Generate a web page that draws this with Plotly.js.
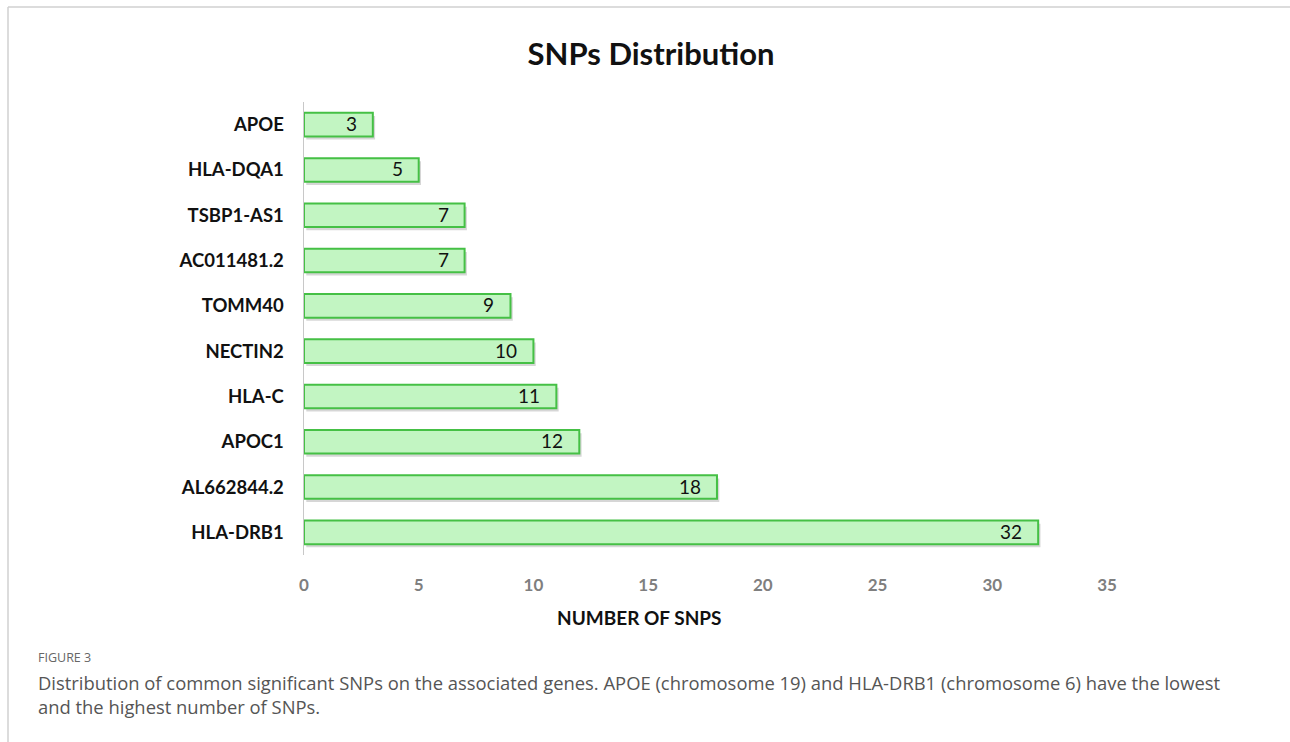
<!DOCTYPE html>
<html><head><meta charset="utf-8">
<script src="https://cdn.plot.ly/plotly-3.0.1.min.js"></script>
<style>html,body{margin:0;padding:0;background:#fff}#chart{width:1290px;height:742px}</style>
</head><body><div id="chart"></div>
<script>
const genes = ["APOE","HLA-DQA1","TSBP1-AS1","AC011481.2","TOMM40","NECTIN2","HLA-C","APOC1","AL662844.2","HLA-DRB1"];
const snpCounts = [3,5,7,7,9,10,11,12,18,32];
const xTicks = [0,5,10,15,20,25,30,35];
const chartTitle = "SNPs Distribution";
const xTitle = "NUMBER OF SNPS";
const figLabel = "FIGURE 3";
const captionText = "Distribution of common significant SNPs on the associated genes. APOE (chromosome 19) and HLA-DRB1 (chromosome 6) have the lowest<br>and the highest number of SNPs.";

const L=304,R=1107,T=102,B=555,W=1290,H=742;
const px=x=>(x-L)/(R-L), py=y=>(B-y)/(B-T);
const F='Lato, Carlito, sans-serif';

const shadow = {type:'bar',orientation:'h',x:snpCounts,y:genes,width:0.52,offset:-0.26+0.07,base:0.1,
  marker:{color:'rgba(0,0,0,0.16)',line:{width:0}},hoverinfo:'skip',showlegend:false};
const bars = {type:'bar',orientation:'h',x:snpCounts,y:genes,width:0.52,offset:-0.26,
  marker:{color:'#c2f5c2',line:{color:'#45c045',width:2}},hoverinfo:'x+y',showlegend:false};

const ann = genes.map((g,i)=>({x:snpCounts[i],y:g,xref:'x',yref:'y',text:String(snpCounts[i]),
  xanchor:'right',yanchor:'middle',xshift:-14,yshift:1,showarrow:false,font:{family:F,size:19,color:'#111'}}));
ann.push({xref:'paper',yref:'paper',x:px(639),y:py(617),xanchor:'center',yanchor:'middle',showarrow:false,
  text:'<b>'+xTitle+'</b>',font:{family:F,size:19,color:'#111'}});
ann.push({xref:'paper',yref:'paper',x:px(36),y:py(657),xanchor:'left',yanchor:'middle',showarrow:false,
  text:figLabel,font:{family:'Open Sans, sans-serif',size:12.5,color:'#666'}});
ann.push({xref:'paper',yref:'paper',x:px(36),y:py(694),xanchor:'left',yanchor:'middle',align:'left',showarrow:false,
  text:captionText,font:{family:'Open Sans, sans-serif',size:18.4,color:'#555'}});

Plotly.newPlot('chart',[shadow,bars],{
  width:W,height:H,margin:{l:L,r:W-R,t:T,b:H-B},
  paper_bgcolor:'#fff',plot_bgcolor:'#fff',barmode:'overlay',
  title:{text:'<b>'+chartTitle+'</b>',x:px(651),xref:'paper',xanchor:'center',y:1-54/H,yanchor:'middle',
    font:{family:F,size:31,color:'#111'}},
  xaxis:{range:[0,35],tickvals:xTicks,showgrid:false,zeroline:false,showline:false,ticks:'',
    ticklabelstandoff:18,tickfont:{family:F,size:17,color:'#7f7f7f',weight:'bold'},fixedrange:true},
  yaxis:{range:[9.5,-0.5],type:'category',showgrid:false,zeroline:false,showline:true,linecolor:'#c8c8c8',linewidth:1.5,ticks:'',
    ticklabelstandoff:15,tickfont:{family:F,size:18.5,color:'#111',weight:'bold'},fixedrange:true},
  annotations:ann,
  shapes:[
    {type:'line',xref:'paper',yref:'paper',x0:px(8),x1:px(8),y0:py(7),y1:py(742),line:{color:'#d0d0d0',width:1.5},layer:'below'},
    {type:'line',xref:'paper',yref:'paper',x0:px(8),x1:px(1290),y0:py(7),y1:py(7),line:{color:'#d0d0d0',width:1.5},layer:'below'}
  ]
},{displayModeBar:false,staticPlot:true});
</script></body></html>
